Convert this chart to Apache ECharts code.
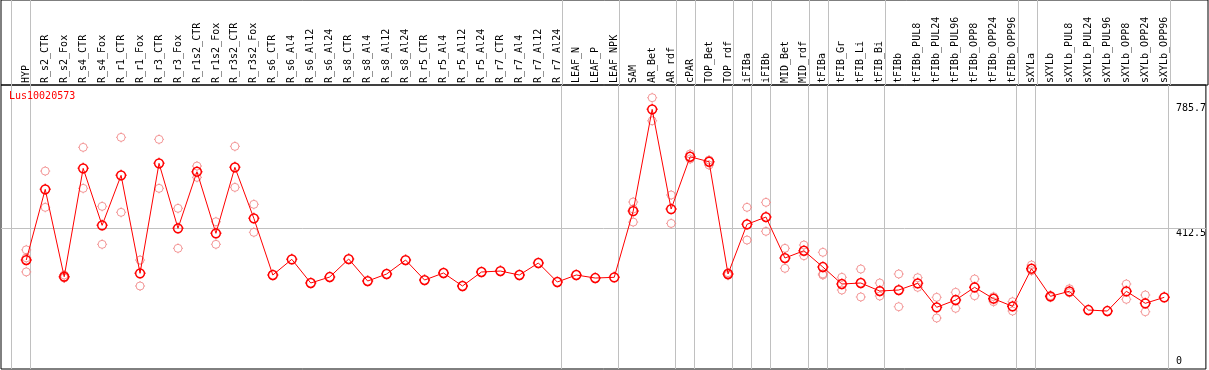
<!DOCTYPE html>
<html>
<head>
<meta charset="utf-8">
<script src="https://cdn.jsdelivr.net/npm/echarts@6/dist/echarts.min.js"></script>
<style>html,body{margin:0;padding:0;background:#fff;}#c{width:1209px;height:370px;}</style>
</head>
<body>
<div id="c"></div>
<script>
const chartTitle = 'Lus10020573';
const categories = ['HYP','R_s2_CTR','R_s2_Fox','R_s4_CTR','R_s4_Fox','R_r1_CTR','R_r1_Fox','R_r3_CTR','R_r3_Fox','R_r1s2_CTR','R_r1s2_Fox','R_r3s2_CTR','R_r3s2_Fox','R_s6_CTR','R_s6_Al4','R_s6_Al12','R_s6_Al24','R_s8_CTR','R_s8_Al4','R_s8_Al12','R_s8_Al24','R_r5_CTR','R_r5_Al4','R_r5_Al12','R_r5_Al24','R_r7_CTR','R_r7_Al4','R_r7_Al12','R_r7_Al24','LEAF_N','LEAF_P','LEAF_NPK','SAM','AR_Bet','AR_rdf','cPAR','TOP_Bet','TOP_rdf','iFIBa','iFIBb','MID_Bet','MID_rdf','tFIBa','tFIB_Gr','tFIB_Li','tFIB_Bi','tFIBb','tFIBb_PUL8','tFIBb_PUL24','tFIBb_PUL96','tFIBb_OPP8','tFIBb_OPP24','tFIBb_OPP96','sXYLa','sXYLb','sXYLb_PUL8','sXYLb_PUL24','sXYLb_PUL96','sXYLb_OPP8','sXYLb_OPP24','sXYLb_OPP96'];
const means = [317.5,528.9,267.6,591.7,421.3,570.8,277.8,606.7,412.3,581.6,397.4,594.7,442.2,272.7,319.6,248.8,266.7,320.5,254.7,275.7,317.5,257.7,278.7,239.8,281.7,284.6,272.7,308.6,251.8,272.7,263.7,265.8,464,768.1,470,626.4,611.5,275.7,424.3,446.1,323.5,345.3,296.6,245.8,248.8,224.8,227.8,247.9,176.1,197.9,235.9,201.8,179.1,291.5,209,224,168,165,224,188.1,206];
const rep1 = [348,583.6,272.7,654.5,478.1,684.4,317.5,678.4,472.1,598.6,432,657.5,484.1,null,null,null,null,null,null,null,null,null,null,null,null,null,null,null,null,null,null,null,491,803,512,634.5,616.5,279.6,475.1,490,352.5,362.4,340.6,265.8,290.6,248.8,275.7,264.6,206,221,260.7,207.8,192.9,302.6,210.8,231.7,null,null,245.8,212.9,null];
const rep2 = [324,475.1,266.7,531.9,364.5,460.2,239.8,531.9,352.5,564.8,364.5,534.9,400.4,null,null,null,null,null,null,null,null,null,null,null,null,null,null,null,null,null,null,null,470,734,427,619.5,601.6,271.8,377.3,403.4,292.7,330.4,272.7,227.8,207,209.9,177.9,235.9,144.1,173.1,210.8,192.9,165,285.5,206,219.8,null,null,200,162.9,null];
const rep3 = [282,null,263.7,null,null,null,null,null,null,null,null,null,null,null,null,null,null,null,null,null,null,null,null,null,null,null,null,null,null,null,null,null,431,null,null,null,null,null,null,null,null,null,276,null,null,null,null,null,null,null,null,null,null,null,null,null,null,null,null,null,null];
const groupEnds = [-1,0,28,31,34,35,37,38,39,41,42,45,52,53,60];
const yTickValues = [0,412.5,785.7];
const refValue = 412.5;

const XMIN = -1.3316, XMAX = 62.195;
const YMIN = -8.4, YMAX = 841;
const SEP_OFFSET = 0.22;
const MONO = 'DejaVu Sans Mono';
const sym = 'path://M-4,0A4,4,0,1,1,4,0A4,4,0,1,1,-4,0ZM0,-4L0,-5M0,4L0,5M-4,0L-5,0M4,0L5,0';

const repData = [];
[rep1, rep2, rep3].forEach(arr => arr.forEach((v, i) => { if (v != null) repData.push([i, v]); }));
const sepLines = groupEnds.map(i => ({ xAxis: i + SEP_OFFSET }));
const idx = categories.map((_, i) => i);

const chart = echarts.init(document.getElementById('c'), null, { renderer: 'canvas' });
chart.setOption({
  animation: false,
  backgroundColor: '#fff',
  title: { text: chartTitle, left: 9, top: 91, padding: 0,
    textStyle: { color: '#ff0000', fontFamily: MONO, fontSize: 10, fontWeight: 'normal' } },
  grid: [
    { left: 1, right: 1, top: 0, height: 85, show: true, borderColor: '#000', borderWidth: 1, backgroundColor: 'transparent' },
    { left: 1, right: 1, top: 85, bottom: 1, show: true, borderColor: '#000', borderWidth: 1, backgroundColor: 'transparent' }
  ],
  xAxis: [
    { gridIndex: 0, type: 'value', min: XMIN, max: XMAX, show: false },
    { gridIndex: 1, type: 'value', position: 'top', min: XMIN, max: XMAX,
      axisLine: { show: false },
      axisTick: { show: false, customValues: idx },
      splitLine: { show: false },
      axisLabel: { customValues: idx, rotate: 90, margin: 2, fontFamily: MONO, fontSize: 10, color: '#000',
        formatter: v => categories[Math.round(v)] || '' } }
  ],
  yAxis: [
    { gridIndex: 0, type: 'value', min: 0, max: 1, show: false },
    { gridIndex: 1, type: 'value', position: 'right', min: YMIN, max: YMAX,
      axisLine: { show: false }, axisTick: { show: false, customValues: yTickValues }, splitLine: { show: false },
      axisLabel: { customValues: yTickValues, inside: true, margin: 30, align: 'left', verticalAlign: 'top', verticalAlignMinLabel: 'bottom',
        fontFamily: MONO, fontSize: 10, color: '#000', formatter: v => String(v) } }
  ],
  series: [
    { type: 'line', xAxisIndex: 0, yAxisIndex: 0, data: [], silent: true,
      markLine: { silent: true, symbol: 'none', label: { show: false },
        lineStyle: { color: '#c0c0c0', width: 1, type: 'solid' }, data: sepLines } },
    { type: 'scatter', xAxisIndex: 1, yAxisIndex: 1, data: repData, symbol: sym, symbolSize: 10, z: 2,
      itemStyle: { color: 'rgba(0,0,0,0)', borderColor: '#f08080', borderWidth: 1 },
      markLine: { silent: true, symbol: 'none', label: { show: false }, z: 1,
        lineStyle: { color: '#c0c0c0', width: 1, type: 'solid' },
        data: sepLines.concat([{ yAxis: refValue }]) } },
    { type: 'line', xAxisIndex: 1, yAxisIndex: 1, data: means.map((v, i) => [i, v]), symbol: sym, symbolSize: 11, z: 3,
      lineStyle: { color: '#ff0000', width: 1 },
      itemStyle: { color: 'rgba(0,0,0,0)', borderColor: '#ff0000', borderWidth: 1.5 } }
  ]
});
</script>
</body>
</html>
